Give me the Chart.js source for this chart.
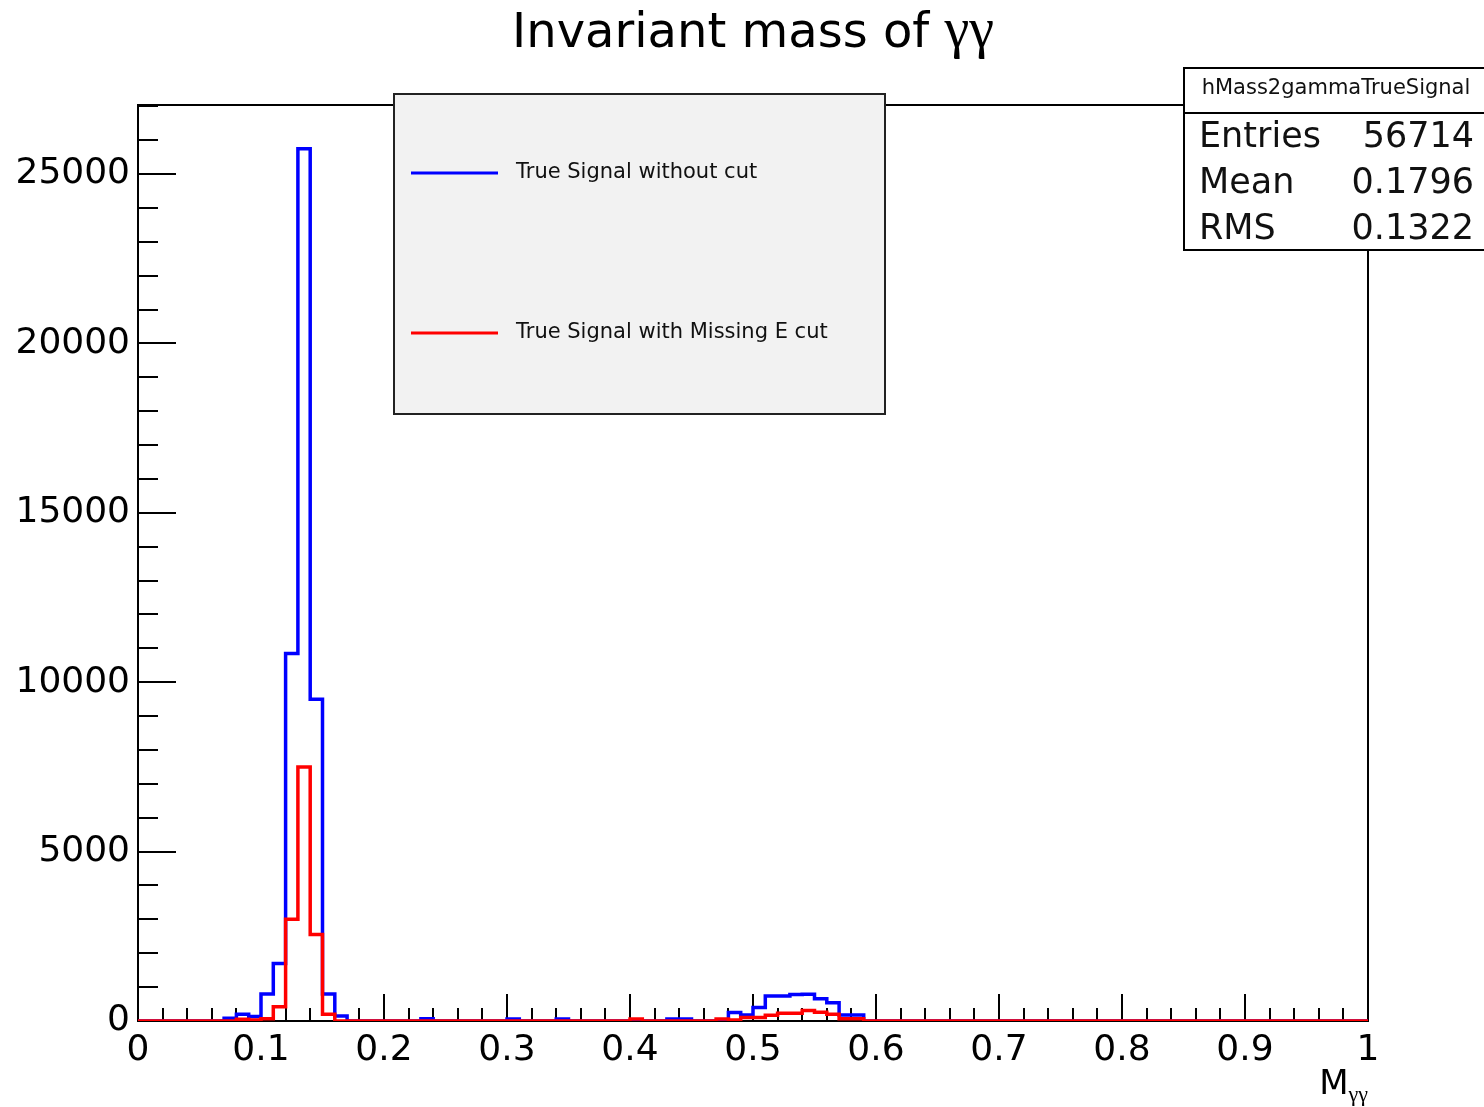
<!DOCTYPE html>
<html>
<head>
<meta charset="utf-8">
<title>Invariant mass of γγ</title>
<script src="https://cdn.jsdelivr.net/npm/chart.js@4"></script>
<style>
  html, body { margin: 0; padding: 0; background: #fff; }
</style>
</head>
<body>
<canvas id="chart" width="1484" height="1107"></canvas>
<script>
// histogram binning: 100 bins from 0 to 1 (like the TH1F)
const nBins = 100;
const xMin = 0;
const xMax = 1;
const yMax = 27040;

// bin contents, bin i = [i*0.01, (i+1)*0.01)
const trueSignal = [
    0, 0, 0, 0, 0, 0, 0, 80, 200, 130,
    800, 1700, 10850, 25750, 9500, 800, 150, 0, 0, 0,
    0, 0, 0, 70, 0, 0, 0, 0, 0, 0,
    60, 0, 0, 0, 60, 0, 0, 0, 0, 0,
    0, 0, 0, 60, 60, 0, 0, 0, 250, 180,
    400, 740, 740, 780, 790, 660, 540, 180, 180, 0,
    0, 0, 0, 0, 0, 0, 0, 0, 0, 0,
    0, 0, 0, 0, 0, 0, 0, 0, 0, 0,
    0, 0, 0, 0, 0, 0, 0, 0, 0, 0,
    0, 0, 0, 0, 0, 0, 0, 0, 0, 0
];
const trueSignalMissingE = [
    0, 0, 0, 0, 0, 0, 0, 0, 50, 30,
    70, 420, 3000, 7500, 2550, 200, 0, 0, 0, 0,
    0, 0, 0, 0, 0, 0, 0, 0, 0, 0,
    0, 0, 0, 0, 0, 0, 0, 0, 0, 0,
    60, 0, 0, 0, 0, 0, 0, 60, 30, 100,
    100, 170, 230, 230, 310, 260, 200, 70, 70, 0,
    0, 0, 0, 0, 0, 0, 0, 0, 0, 0,
    0, 0, 0, 0, 0, 0, 0, 0, 0, 0,
    0, 0, 0, 0, 0, 0, 0, 0, 0, 0,
    0, 0, 0, 0, 0, 0, 0, 0, 0, 0
];

const xTicks = [0, 0.1, 0.2, 0.3, 0.4, 0.5, 0.6, 0.7, 0.8, 0.9, 1];
const xTickLabels = ['0', '0.1', '0.2', '0.3', '0.4', '0.5', '0.6', '0.7', '0.8', '0.9', '1'];
const yTicks = [0, 5000, 10000, 15000, 20000, 25000];
const yTickLabels = ['0', '5000', '10000', '15000', '20000', '25000'];

const statsName = 'hMass2gammaTrueSignal';
const statsLabels = ['Entries', 'Mean', 'RMS'];
const statsValues = ['56714', '0.1796', '0.1322'];

const sans = 'DejaVu Sans';
const serif = 'Liberation Serif';

// points at the low edge of each bin + closing point, drawn as steps
function histPoints(counts) {
    const w = (xMax - xMin) / nBins;
    const pts = counts.map((c, i) => ({ x: xMin + i * w, y: c }));
    pts.push({ x: xMax, y: counts[counts.length - 1] });
    return pts;
}

const rootStyle = {
    id: 'rootStyle',
    beforeDatasetsDraw(chart) {
        const { ctx, chartArea: a, scales: { x, y } } = chart;
        ctx.save();
        ctx.strokeStyle = '#000';
        ctx.lineWidth = 2;
        ctx.beginPath();
        ctx.moveTo(a.left, a.top);
        ctx.lineTo(a.right, a.top);
        ctx.lineTo(a.right, a.bottom);
        ctx.stroke();

        // ticks inside the frame, ROOT style
        ctx.beginPath();
        for (let k = 0; k * 1000 <= yMax; k++) {
            const py = Math.round(y.getPixelForValue(k * 1000));
            const len = k % 5 === 0 ? 38 : 20;
            ctx.moveTo(a.left, py);
            ctx.lineTo(a.left + len, py);
        }
        for (let k = 0; k <= 50; k++) {
            const px = Math.round(x.getPixelForValue(k * 0.02));
            const len = k % 5 === 0 ? 27 : 13;
            ctx.moveTo(px, a.bottom);
            ctx.lineTo(px, a.bottom - len);
        }
        ctx.stroke();
        ctx.restore();
    },
    afterDraw(chart) {
        const { ctx, chartArea: a } = chart;
        ctx.save();

        // title
        ctx.fillStyle = '#000';
        ctx.textBaseline = 'alphabetic';
        ctx.font = `48px "${sans}"`;
        const t1 = 'Invariant mass of ';
        const w1 = ctx.measureText(t1).width;
        ctx.font = `56px "${serif}"`;
        const w2 = ctx.measureText('γγ').width;
        let tx = 753 - (w1 + w2) / 2;
        ctx.font = `48px "${sans}"`;
        ctx.textAlign = 'left';
        ctx.fillText(t1, tx, 47);
        ctx.font = `56px "${serif}"`;
        ctx.fillText('γγ', tx + w1, 47);

        // axis title M_γγ
        ctx.font = `22px "${serif}"`;
        const ws = ctx.measureText('γγ').width;
        ctx.textAlign = 'right';
        ctx.fillText('γγ', a.right, 1101);
        ctx.font = `34px "${sans}"`;
        ctx.fillText('M', a.right - ws, 1094);

        // legend box
        ctx.fillStyle = '#f2f2f2';
        ctx.fillRect(394, 94, 491, 320);
        ctx.strokeStyle = '#222';
        ctx.lineWidth = 2;
        ctx.strokeRect(394, 94, 491, 320);
        const rows = [173, 333];
        chart.data.datasets.slice().reverse().forEach((ds, i) => {
            ctx.strokeStyle = ds.borderColor;
            ctx.lineWidth = 3;
            ctx.beginPath();
            ctx.moveTo(411, rows[i]);
            ctx.lineTo(498, rows[i]);
            ctx.stroke();
            ctx.fillStyle = '#111';
            ctx.font = `21px "${sans}"`;
            ctx.textAlign = 'left';
            ctx.textBaseline = 'middle';
            ctx.fillText(ds.label, 516, rows[i]);
        });

        // stats box
        ctx.fillStyle = '#fff';
        ctx.fillRect(1184, 68, 310, 182);
        ctx.strokeStyle = '#000';
        ctx.lineWidth = 2;
        ctx.strokeRect(1184, 68, 310, 182);
        ctx.beginPath();
        ctx.moveTo(1184, 113);
        ctx.lineTo(1484, 113);
        ctx.stroke();
        ctx.fillStyle = '#111';
        ctx.font = `21px "${sans}"`;
        ctx.textAlign = 'center';
        ctx.textBaseline = 'middle';
        ctx.fillText(statsName, 1336, 89);
        ctx.font = `35px "${sans}"`;
        statsLabels.forEach((lab, i) => {
            const yy = 138 + i * 46;
            ctx.textAlign = 'left';
            ctx.fillText(lab, 1199, yy);
            ctx.textAlign = 'right';
            ctx.fillText(statsValues[i], 1474, yy);
        });
        ctx.restore();
    }
};

const tickFont = { family: sans, size: 36 };

new Chart(document.getElementById('chart'), {
    type: 'line',
    data: {
        datasets: [{
            label: 'True Signal with Missing E cut',
            data: histPoints(trueSignalMissingE),
            borderColor: '#ff0000',
            borderWidth: 3.5,
            stepped: 'before',
            pointRadius: 0,
            fill: false,
            order: 1
        }, {
            label: 'True Signal without cut',
            data: histPoints(trueSignal),
            borderColor: '#0000ff',
            borderWidth: 3.5,
            stepped: 'before',
            pointRadius: 0,
            fill: false,
            order: 2
        }]
    },
    options: {
        responsive: false,
        animation: false,
        layout: { padding: { left: 0, top: 105, right: 116, bottom: 0 } },
        plugins: {
            legend: { display: false },
            tooltip: { enabled: false },
            title: { display: false }
        },
        scales: {
            x: {
                type: 'linear',
                min: xMin,
                max: xMax,
                afterBuildTicks: s => { s.ticks = xTicks.map(v => ({ value: v })); },
                afterFit: s => { s.height = 86; },
                grid: { display: false, drawTicks: false },
                border: { display: true, color: '#000', width: 2 },
                ticks: {
                    font: tickFont,
                    color: '#000',
                    padding: 8,
                    maxRotation: 0,
                    autoSkip: false,
                    callback: (v, i) => xTickLabels[i]
                }
            },
            y: {
                min: 0,
                max: yMax,
                afterBuildTicks: s => { s.ticks = yTicks.map(v => ({ value: v })); },
                afterFit: s => { s.width = 138; },
                grid: { display: false, drawTicks: false },
                border: { display: true, color: '#000', width: 2 },
                ticks: {
                    font: tickFont,
                    color: '#000',
                    padding: 8,
                    autoSkip: false,
                    callback: (v, i) => yTickLabels[i]
                }
            }
        }
    },
    plugins: [rootStyle]
});
</script>
</body>
</html>
